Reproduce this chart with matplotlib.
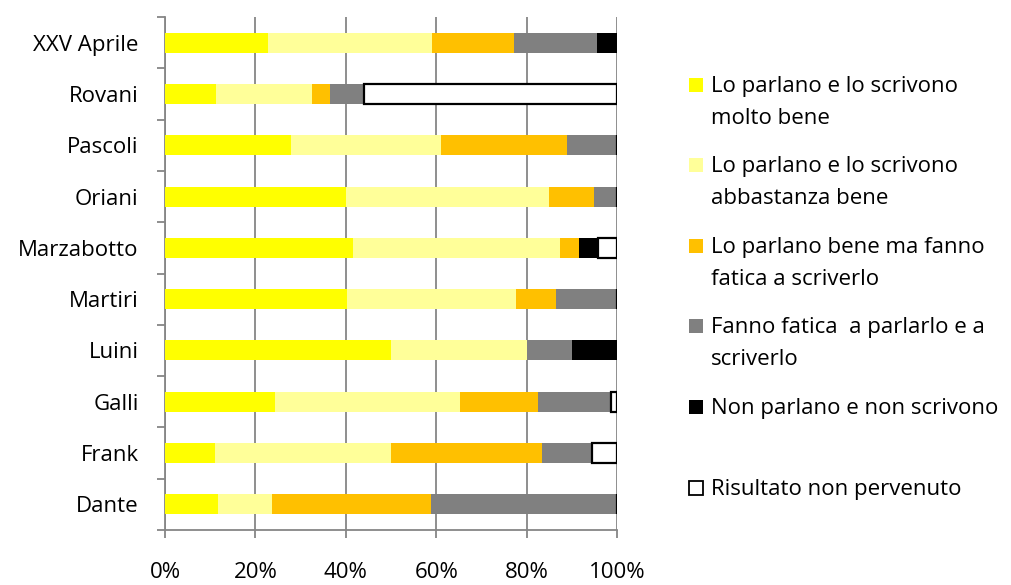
import matplotlib.pyplot as plt
from matplotlib.patches import Rectangle
from matplotlib.ticker import FixedLocator, PercentFormatter
import numpy as np

plt.rcParams['font.family'] = ['Open Sans', 'DejaVu Sans']

schools = ["XXV Aprile", "Rovani", "Pascoli", "Oriani", "Marzabotto",
           "Martiri", "Luini", "Galli", "Frank", "Dante"]

molto_bene      = [22.7, 11.2, 27.8, 40.0, 41.7, 40.2, 50.0, 24.4, 11.1, 11.8]
abbastanza_bene = [36.4, 21.3, 33.3, 45.0, 45.8, 37.4, 30.0, 40.8, 38.9, 11.8]
fatica_scrivere = [18.2,  3.9, 27.8, 10.0,  4.2,  8.9,  0.0, 17.4, 33.3, 35.3]
fatica_entrambi = [18.2,  7.6, 11.1,  5.0,  0.0, 13.5, 10.0, 16.0, 11.1, 41.1]
non_parlano     = [ 4.5,  0.0,  0.0,  0.0,  4.2,  0.0, 10.0,  0.0,  0.0,  0.0]
non_pervenuto   = [ 0.0, 56.0,  0.0,  0.0,  4.2,  0.0,  0.0,  1.4,  5.6,  0.0]

series = [
    ("Lo parlano e lo scrivono\nmolto bene", molto_bene, "#FFFF00", None),
    ("Lo parlano e lo scrivono\nabbastanza bene", abbastanza_bene, "#FFFF99", None),
    ("Lo parlano bene ma fanno\nfatica a scriverlo", fatica_scrivere, "#FFC000", None),
    ("Fanno fatica  a parlarlo e a\nscriverlo", fatica_entrambi, "#808080", None),
    ("Non parlano e non scrivono", non_parlano, "#000000", None),
    ("Risultato non pervenuto", non_pervenuto, "#FFFFFF", "#000000"),
]

FS = 16

fig = plt.figure(figsize=(10.12, 5.85), dpi=100)
ax = fig.add_axes([165 / 1012, 1 - 530 / 585, 452 / 1012, 513 / 585])

y = np.arange(len(schools))[::-1]
left = np.zeros(len(schools))
for label, vals, color, edge in series:
    vals = np.array(vals)
    if edge:
        ax.barh(y, vals, left=left, height=0.39, color=color,
                edgecolor=edge, linewidth=1.6, zorder=3)
    else:
        ax.barh(y, vals, left=left, height=0.39, color=color,
                linewidth=0, zorder=3)
    left += vals

ax.set_xlim(0, 100)
ax.set_ylim(-0.5, len(schools) - 0.5)
ax.xaxis.set_major_locator(FixedLocator([0, 20, 40, 60, 80, 100]))
ax.xaxis.set_major_formatter(PercentFormatter(decimals=0))
ax.grid(axis="x", color="#868686", linewidth=1.3, zorder=0)
ax.set_yticks(y)
ax.set_yticklabels(schools)
ax.yaxis.set_minor_locator(FixedLocator(np.arange(-0.5, len(schools), 1.0)))

for s in ("top", "right"):
    ax.spines[s].set_visible(False)
for s in ("left", "bottom"):
    ax.spines[s].set_color("#868686")
    ax.spines[s].set_linewidth(1.3)

ax.tick_params(axis="y", which="major", length=0, pad=19, labelsize=FS)
ax.tick_params(axis="y", which="minor", length=6, width=1.3, color="#868686")
ax.tick_params(axis="x", which="major", length=6, width=1.3, color="#868686",
               pad=17, labelsize=FS)

# legend drawn by hand to keep Excel-like spacing
ys = [85, 165, 246, 326, 407, 488]
for (label, vals, color, edge), yc in zip(series, ys):
    sz = 14
    fig.patches.append(Rectangle((689 / 1012, 1 - (yc + sz / 2) / 585),
                                 sz / 1012, sz / 585, transform=fig.transFigure,
                                 facecolor=color,
                                 edgecolor=edge if edge else color,
                                 linewidth=1.3 if edge else 0))
    fig.text(711 / 1012, 1 - (yc - 9) / 585, label, fontsize=FS,
             va="top", ha="left", linespacing=1.7)

fig.savefig("out.png", dpi=100)
